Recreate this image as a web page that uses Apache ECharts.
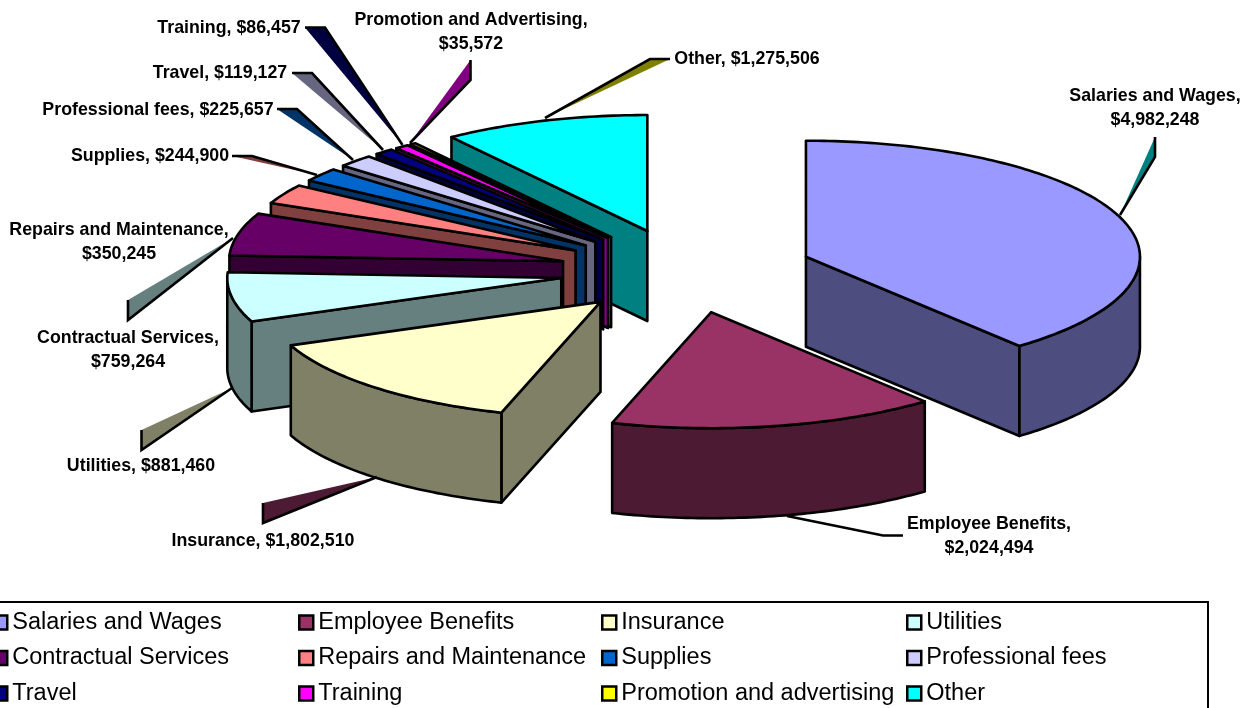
<!DOCTYPE html>
<html>
<head>
<meta charset="utf-8">
<title>Expenses</title>
<style>
html,body{margin:0;padding:0;background:#fff;overflow:hidden}
#main{width:1252px;height:708px}
</style>
<script src="https://cdn.jsdelivr.net/npm/echarts@6/dist/echarts.min.js"></script>
</head>
<body>
<div id="main"></div>
<script>
// data
var categories = ['Salaries and Wages','Employee Benefits','Insurance','Utilities','Contractual Services','Repairs and Maintenance','Supplies','Professional fees','Travel','Training','Promotion and advertising','Other'];
var labelNames = ['Salaries and Wages','Employee Benefits','Insurance','Utilities','Contractual Services','Repairs and Maintenance','Supplies','Professional fees','Travel','Training','Promotion and Advertising','Other'];
var values = [4982248,2024494,1802510,881460,759264,350245,244900,225657,119127,86457,35572,1275506];
var colors = ['#9999FF','#993366','#FFFFCC','#CCFFFF','#660066','#FF8080','#0066CC','#CCCCFF','#000080','#FF00FF','#FFFF00','#00FFFF'];

// pie geometry
var cx = 686.5, cy = 271, rx = 334, ry = 116, depth = 90, explodeX = 127, explodeY = 42;

// label anchor: centre x, centre y of first line, line break after the name
var labelPos = [[1155,94,1],[989,522,1],[263,539,0],[141,464,0],[128,336,1],[119,228,1],[150,154,0],[158,108,0],[220,71,0],[229,26,0],[471,18,1],[747,57,0]];
// leader lines: label end, bend, point on the slice
var leaderPos = [
    [[1155,137],[1155,157],[1120,215]],
    [[903,535.5],[883,535.5],[787,516]],
    [[263,503],[263,523],[377,477]],
    [[141.5,430],[141.5,450],[232,388]],
    [[128,300],[128,320],[233,238]],
    null,
    [[232,156],[252,156],[317,175]],
    [[277,109],[297,109],[353,160]],
    [[292,73],[312,73],[383,150]],
    [[305,27.5],[325,27.5],[402.5,145]],
    [[470.5,60],[470.5,80],[410,143]],
    [[670,59],[650,59],[545,118]]
];

var total = 0;
values.forEach(function (v) { total += v; });
var starts = [], ends = [], acc = 0;
values.forEach(function (v) {
    starts.push(acc / total * 360);
    acc += v;
    ends.push(acc / total * 360);
});

function sideColor(hex) {
    var out = '#';
    for (var k = 1; k < 7; k += 2) {
        var c = Math.round(parseInt(hex.substr(k, 2), 16) / 2).toString(16);
        out += (c.length < 2 ? '0' : '') + c;
    }
    return out;
}

function rad(d) { return d * Math.PI / 180; }

function poly(points, fill) {
    return {
        type: 'polygon',
        shape: {points: points},
        style: {fill: fill, stroke: '#000', lineWidth: 2.6, lineJoin: 'round'}
    };
}

// one slice: cut faces, outer wall, then the top
function renderSlice(params, api) {
    var i = params.seriesIndex;
    var s = starts[i], e = ends[i], mid = (s + e) / 2;
    var ax = cx + explodeX * Math.sin(rad(mid));
    var ay = cy - explodeY * Math.cos(rad(mid));
    var dark = sideColor(colors[i]);
    function rim(d) {
        return [ax + rx * Math.sin(rad(d)), ay - ry * Math.cos(rad(d))];
    }
    function drop(p) { return [p[0], p[1] + depth]; }
    function face(d) {
        var p = rim(d);
        return poly([[ax, ay], p, drop(p), [ax, ay + depth]], dark);
    }
    var children = [];
    if (Math.sin(rad(s)) < 0) children.push(face(s));
    if (Math.sin(rad(e)) > 0) children.push(face(e));
    var from = Math.max(s, 90), to = Math.min(e, 270);
    if (to > from) {
        var upper = [], lower = [];
        for (var d = from; d < to; d += 1) upper.push(rim(d));
        upper.push(rim(to));
        for (var j = upper.length - 1; j >= 0; j--) lower.push(drop(upper[j]));
        children.push(poly(upper.concat(lower), dark));
    }
    var top = [[ax, ay]];
    for (var t = s; t < e; t += 1) top.push(rim(t));
    top.push(rim(e));
    children.push(poly(top, colors[i]));
    return {type: 'group', children: children};
}

var series = categories.map(function (name, i) {
    return {
        type: 'custom',
        name: name,
        coordinateSystem: 'none',
        silent: true,
        z: 20 - (i + 10) % 12,   // Other at the back, Insurance over the small slices
        itemStyle: {color: colors[i]},
        renderItem: renderSlice,
        data: [[values[i]]]
    };
});

// legend: four columns, three rows, box drawn separately
function legendCol(left, names) {
    return {
        left: left, top: 609, orient: 'vertical', padding: 0,
        selectedMode: false, icon: 'rect',
        itemWidth: 14, itemHeight: 14, itemGap: 8.5,
        itemStyle: {borderColor: '#000', borderWidth: 2.5},
        textStyle: {fontFamily: 'Liberation Sans', fontSize: 23.5, color: '#000', lineHeight: 27},
        data: names
    };
}
var legendCols = [
    legendCol(-8, [categories[0], categories[4], categories[8]]),
    legendCol(298, [categories[1], categories[5], categories[9]]),
    legendCol(601, [categories[2], categories[6], categories[10]]),
    legendCol(906, [categories[3], categories[7], categories[11]])
];

var graphics = [{
    type: 'rect', z: 100,
    shape: {x: -10, y: 602, width: 1218, height: 130},
    style: {fill: 'none', stroke: '#000', lineWidth: 2}
}];
categories.forEach(function (name, i) {
    var lead = leaderPos[i], lp = labelPos[i];
    if (lead) {
        if (i !== 1) {
            graphics.push({
                type: 'polygon', z: 100,
                shape: {points: lead},
                style: {fill: sideColor(colors[(i + 11) % 12]), stroke: null}
            });
        }
        graphics.push({
            type: 'polyline', z: 100,
            shape: {points: lead},
            style: {fill: 'none', stroke: '#000', lineWidth: 2.6}
        });
    }
    var money = '$' + values[i].toLocaleString('en-US');
    graphics.push({
        type: 'text', z: 100,
        x: lp[0], y: lp[1] - 10,
        style: {
            text: labelNames[i] + (lp[2] ? ',\n' : ', ') + money,
            fontFamily: 'Liberation Sans', fontWeight: 'bold', fontSize: 17.8,
            lineHeight: 24, align: 'center', verticalAlign: 'top', fill: '#000'
        }
    });
});

var myChart = echarts.init(document.getElementById('main'));
myChart.setOption({
    backgroundColor: '#fff',
    animation: false,
    tooltip: {show: false},
    legend: legendCols,
    graphic: graphics,
    series: series
});
</script>
</body>
</html>
